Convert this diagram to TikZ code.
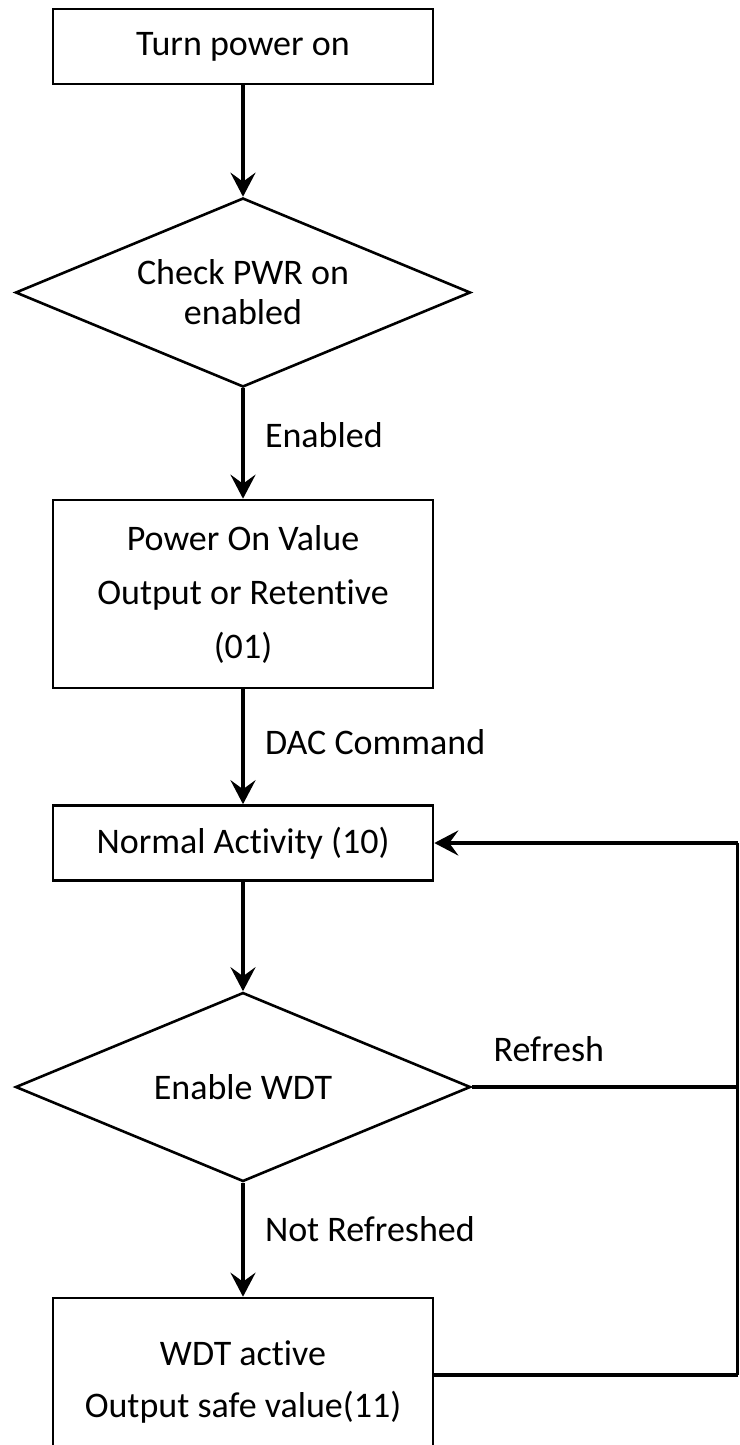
\documentclass[tikz,border=0pt]{standalone}
\usepackage{fontspec}
\setmainfont{Carlito}[Ligatures={NoCommon}]
\usetikzlibrary{shapes.geometric,arrows.meta}
\begin{document}
\begin{tikzpicture}[x=1bp,y=-1bp,
  box/.style={draw, line width=2.6bp, minimum width=380bp, inner sep=0pt, align=center, font=\fontsize{36bp}{54bp}\selectfont},
  dec/.style={draw, diamond, line width=2.6bp, minimum width=455bp, minimum height=189bp, aspect=2.4, inner sep=0pt, align=center, font=\fontsize{36bp}{40bp}\selectfont},
  arr/.style={line width=4bp, -{Stealth[length=24bp,width=25bp,inset=9bp]}},
  lbl/.style={inner sep=0pt, font=\fontsize{36bp}{40bp}\selectfont},
  loopline/.style={line width=4bp}]
\useasboundingbox (0,0) rectangle (739,1445);
\clip (0,0) rectangle (739,1445);
\node[box, minimum height=75bp] (b1) at (243,46.5) {Turn power on};
\node[dec] (d1) at (243,292.5) {Check PWR on\\enabled};
\node[box, minimum height=188bp] (b2) at (243,594) {Power On Value\\Output or Retentive\\(01)};
\node[box, minimum height=75bp] (b3) at (243,843) {Normal Activity (10)};
\node[dec] (d2) at (243,1087) {Enable WDT};
\node[box, minimum height=154bp, font=\fontsize{36bp}{52bp}\selectfont] (b4) at (243,1375) {\rule{0pt}{38bp}WDT active\\Output safe value(11)};
\coordinate (r1) at (737.5,1087);
\coordinate (r2) at (737.5,1375);
\coordinate (r0) at (737.5,843);
\draw[arr] (b1.south) -- (d1.north);
\draw[arr] (d1.south) -- node[lbl, pos=0.42, anchor=west, xshift=20bp] {Enabled} (b2.north);
\draw[arr] (b2.south) -- node[lbl, pos=0.46, anchor=west, xshift=20bp] {DAC Command} (b3.north);
\draw[arr] (b3.south) -- (d2.north);
\draw[arr] (d2.south) -- node[lbl, pos=0.41, anchor=west, xshift=20bp] {Not Refreshed} (b4.north);
\draw[loopline] (d2.east) -- node[lbl, pos=0.29, above=23bp] {Refresh} (r1);
\draw[loopline] (b4.east) -- (r2);
\draw[line width=3bp] (r2) -- (r0);
\draw[arr] (r0) -- (b3.east);
\end{tikzpicture}
\end{document}
